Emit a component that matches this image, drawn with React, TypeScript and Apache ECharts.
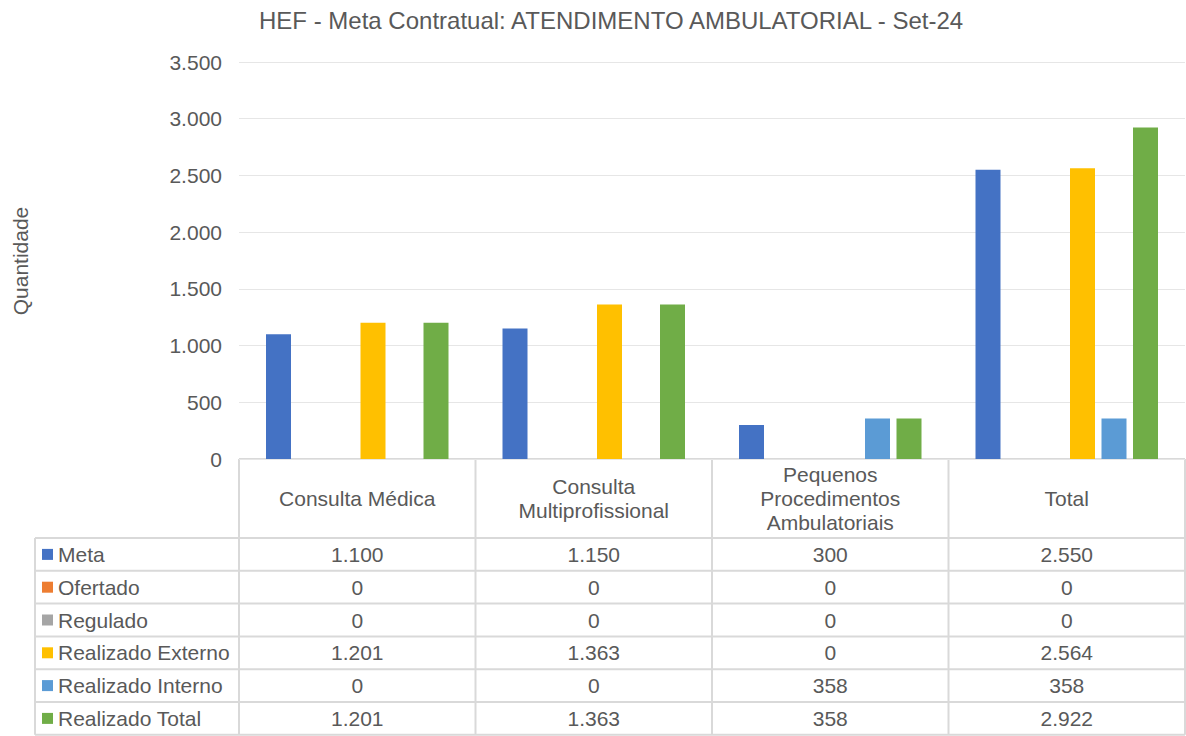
import React, { useEffect, useRef } from "react";
import * as echarts from "echarts";

const titleText = "HEF - Meta Contratual: ATENDIMENTO AMBULATORIAL - Set-24";
const yAxisTitle = "Quantidade";
const categories = [
  "Consulta Médica",
  "Consulta\nMultiprofissional",
  "Pequenos\nProcedimentos\nAmbulatoriais",
  "Total",
];
const seriesNames = [
  "Meta",
  "Ofertado",
  "Regulado",
  "Realizado Externo",
  "Realizado Interno",
  "Realizado Total",
];
const meta = [1100, 1150, 300, 2550];
const ofertado = [0, 0, 0, 0];
const regulado = [0, 0, 0, 0];
const realizadoExterno = [1201, 1363, 0, 2564];
const realizadoInterno = [0, 0, 358, 358];
const realizadoTotal = [1201, 1363, 358, 2922];
const seriesColors = ["#4472C4", "#ED7D31", "#A5A5A5", "#FFC000", "#5B9BD5", "#70AD47"];
const yMax = 3500;
const yInterval = 500;

const seriesData = [meta, ofertado, regulado, realizadoExterno, realizadoInterno, realizadoTotal];

const fmt = (n: number) => String(n).replace(/\B(?=(\d{3})+(?!\d))/g, ".");

const W = 1186;
const H = 736;
const GRID_LEFT = 239;
const GRID_RIGHT = 1185;
const GRID_TOP = 62;
const GRID_BOTTOM = 459;
const HEADER_BOTTOM = 538;
const ROW_H = 32.8;
const TABLE_LEFT = 35;
const LINE_COLOR = "#D9D9D9";
const TEXT_COLOR = "#595959";
const FONT = "'Liberation Sans', Arial, sans-serif";
const FS = 21;

export default function App() {
  const ref = useRef<HTMLDivElement>(null);
  useEffect(() => {
    if (!ref.current) return;
    const chart = echarts.init(ref.current, undefined, { renderer: "svg" });
    const catW = (GRID_RIGHT - GRID_LEFT) / categories.length;
    const graphics: any[] = [];
    const line = (x1: number, y1: number, x2: number, y2: number) =>
      graphics.push({
        type: "line",
        shape: { x1, y1, x2, y2 },
        style: { stroke: LINE_COLOR, lineWidth: 2 },
        silent: true,
      });
    const tableBottom = HEADER_BOTTOM + ROW_H * seriesNames.length;
    line(GRID_LEFT, GRID_BOTTOM, GRID_RIGHT, GRID_BOTTOM);
    for (let r = 0; r <= seriesNames.length; r++) {
      const y = HEADER_BOTTOM + r * ROW_H;
      line(TABLE_LEFT, y, GRID_RIGHT, y);
    }
    line(TABLE_LEFT, HEADER_BOTTOM, TABLE_LEFT, tableBottom);
    for (let c = 0; c <= categories.length; c++) {
      const x = GRID_LEFT + c * catW;
      line(x, GRID_BOTTOM, x, tableBottom);
    }
    categories.forEach((cat, c) => {
      graphics.push({
        type: "text",
        x: GRID_LEFT + (c + 0.5) * catW,
        y: (GRID_BOTTOM + HEADER_BOTTOM) / 2,
        style: {
          text: cat,
          fill: TEXT_COLOR,
          font: `${FS}px ${FONT}`,
          align: "center",
          verticalAlign: "middle",
          lineHeight: 24,
        },
        silent: true,
      });
    });
    seriesNames.forEach((name, r) => {
      const cy = HEADER_BOTTOM + (r + 0.5) * ROW_H;
      graphics.push({
        type: "rect",
        shape: { x: 42, y: cy - 5.5, width: 11, height: 11 },
        style: { fill: seriesColors[r] },
        silent: true,
      });
      graphics.push({
        type: "text",
        x: 58,
        y: cy,
        style: {
          text: name,
          fill: TEXT_COLOR,
          font: `${FS}px ${FONT}`,
          align: "left",
          verticalAlign: "middle",
        },
        silent: true,
      });
      seriesData[r].forEach((v, c) => {
        graphics.push({
          type: "text",
          x: GRID_LEFT + (c + 0.5) * catW,
          y: cy,
          style: {
            text: fmt(v),
            fill: TEXT_COLOR,
            font: `${FS}px ${FONT}`,
            align: "center",
            verticalAlign: "middle",
          },
          silent: true,
        });
      });
    });
    graphics.push({
      type: "text",
      x: 20,
      y: 261,
      rotation: Math.PI / 2,
      style: {
        text: yAxisTitle,
        fill: TEXT_COLOR,
        font: `${FS}px ${FONT}`,
        align: "center",
        verticalAlign: "middle",
      },
      silent: true,
    });

    chart.setOption({
      animation: false,
      title: {
        text: titleText,
        left: 254,
        top: 3,
        textStyle: { color: TEXT_COLOR, fontSize: 24, fontWeight: "normal", fontFamily: FONT },
      },
      grid: {
        left: GRID_LEFT,
        right: W - GRID_RIGHT,
        top: GRID_TOP,
        bottom: H - GRID_BOTTOM,
        containLabel: false,
      },
      xAxis: {
        type: "category",
        data: categories,
        axisLabel: { show: false },
        axisTick: { show: false },
        axisLine: { show: false },
      },
      yAxis: {
        type: "value",
        min: 0,
        max: yMax,
        interval: yInterval,
        axisLine: { show: false },
        axisTick: { show: false },
        splitLine: { lineStyle: { color: "#E6E6E6", width: 1 } },
        axisLabel: {
          color: TEXT_COLOR,
          fontSize: FS,
          fontFamily: FONT,
          margin: 17,
          formatter: (v: number) => fmt(v),
        },
      },
      series: seriesNames.map((name, i) => ({
        name,
        type: "bar",
        data: seriesData[i],
        barWidth: 25,
        barGap: "26%",
        itemStyle: { color: seriesColors[i] },
        silent: true,
      })),
      graphic: graphics,
    });
    return () => chart.dispose();
  }, []);
  return (
    <div
      ref={ref}
      style={{ position: "fixed", left: 0, top: 0, width: W, height: H, background: "#fff" }}
    />
  );
}
